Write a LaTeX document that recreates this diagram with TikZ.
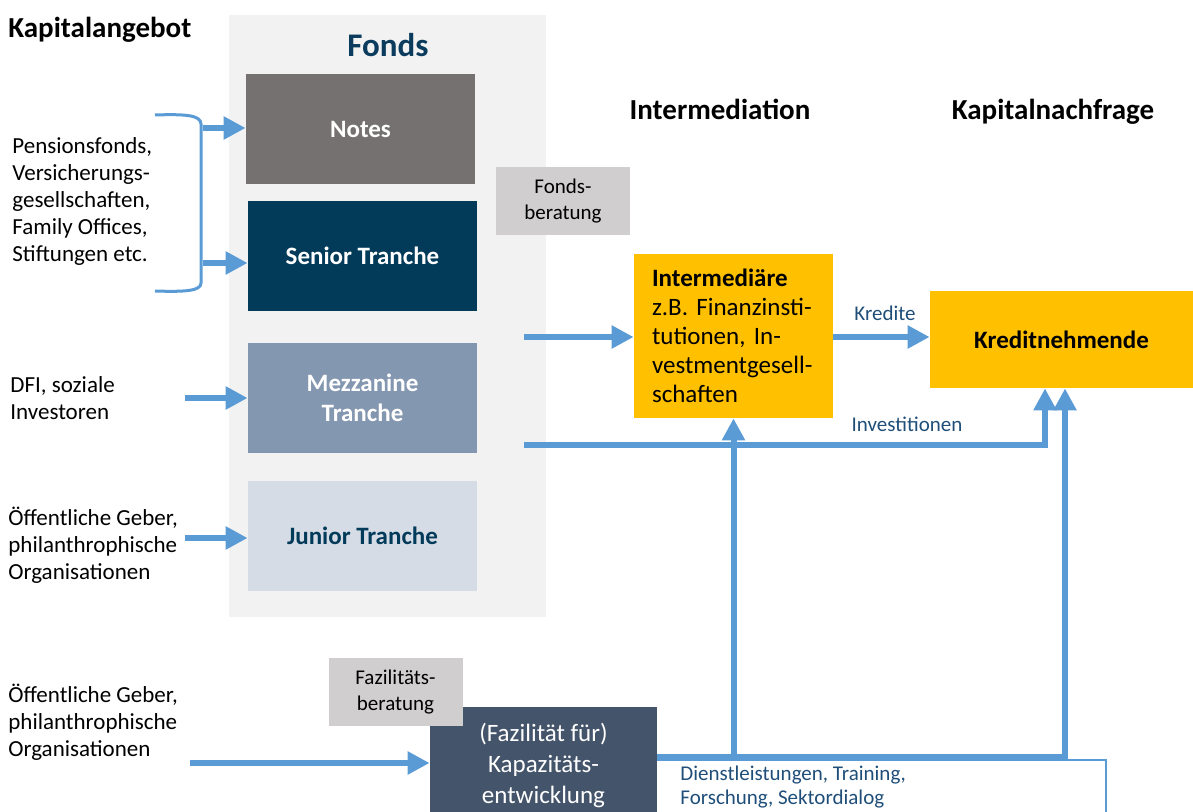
\documentclass[tikz,border=0pt]{standalone}
\usepackage{fontspec}
\setmainfont{Carlito}
\usetikzlibrary{arrows.meta,positioning}
\definecolor{arrowblue}{HTML}{5B9BD5}
\definecolor{fondsgray}{HTML}{F2F2F2}
\definecolor{notesgray}{HTML}{767171}
\definecolor{seniorblue}{HTML}{023A5A}
\definecolor{mezzblue}{HTML}{8497B0}
\definecolor{juniorblue}{HTML}{D6DCE5}
\definecolor{beratgray}{HTML}{D0CECE}
\definecolor{gold}{HTML}{FFC000}
\definecolor{kapblue}{HTML}{44546A}
\definecolor{labelblue}{HTML}{1F4E79}
\definecolor{titleblue}{HTML}{0B3C5D}

\begin{document}
\begin{tikzpicture}[x=0.5pt,y=-0.5pt,
		tranche/.style={minimum width=114.5pt,minimum height=55pt,inner sep=0pt,align=center,font=\fontsize{12.5}{15}\selectfont\bfseries},
		berat/.style={fill=beratgray,minimum width=67pt,minimum height=34pt,inner sep=0pt,align=center,font=\fontsize{10.5}{13}\selectfont},
		head/.style={inner sep=0pt,font=\fontsize{14.5}{17}\selectfont\bfseries},
		src/.style={align=left,anchor=west,inner sep=0pt,font=\fontsize{11.5}{13.5}\selectfont},
		lbl/.style={text=labelblue,inner sep=0pt,font=\fontsize{10.5}{12}\selectfont},
		flow/.style={draw=arrowblue,line width=3pt,-{Triangle[length=11pt,width=11pt]}}]
	\useasboundingbox (0,0) rectangle (1193,812);

	% Kapitalangebot
	\node [head,anchor=base west] (angebot) at (8,38) {Kapitalangebot};
	\node [src] (pension) at (12,201.5) {Pensionsfonds,\\Versicherungs-\\gesellschaften,\\Family Offices,\\Stiftungen etc.};
	\node [src] (dfi) at (10,398) {DFI, soziale\\Investoren};
	\node [src] (geber1) at (8,545) {Öffentliche Geber,\\philanthrophische\\Organisationen};
	\node [src] (geber2) at (8,722.5) {Öffentliche Geber,\\philanthrophische\\Organisationen};

	% Fonds
	\node [fill=fondsgray,minimum width=158.5pt,minimum height=301pt,inner sep=0pt] (fonds) at (387.5,316) {};
	\node [inner sep=0pt,text=titleblue,font=\fontsize{16.5}{19}\selectfont\bfseries] (fondstitle) at (388,45) {Fonds};
	\node [tranche,fill=notesgray,text=white] (notes) at (360.5,129) {Notes};
	\node [tranche,fill=seniorblue,text=white] (senior) at (362.5,256) {Senior Tranche};
	\node [tranche,fill=mezzblue,text=white] (mezz) at (362.5,398) {Mezzanine\\Tranche};
	\node [tranche,fill=juniorblue,text=seniorblue] (junior) at (362.5,536) {Junior Tranche};
	\node [berat] (fberat) at (563,201) {Fonds-\\beratung};

	% Intermediation, Kapitalnachfrage
	\node [head,anchor=base] (intermed) at (720,120) {Intermediation};
	\node [head,anchor=base] (nachfrage) at (1053,120) {Kapitalnachfrage};
	\node [fill=gold,minimum height=82pt,text width=81.5pt,inner xsep=9pt,align=left,font=\fontsize{12.5}{14.5}\selectfont] (inter) at (733.5,336) {\textbf{Intermediäre}\\z.B. Finanzinsti-\\tutionen, In-\\vestmentgesell-\\schaften};
	\node [fill=gold,minimum width=131.5pt,minimum height=48.5pt,inner sep=0pt,font=\fontsize{12.5}{14.5}\selectfont\bfseries] (kredit) at (1061.5,339.5) {Kreditnehmende};

	% Kapitalangebot -> Fonds
	\draw [draw=arrowblue,line width=1.5pt] (155,115) .. controls (185,114) and (201,115) .. (201,124) -- (201,283) .. controls (201,291) and (185,292) .. (155,291);
	\coordinate (b1) at (203,128);
	\coordinate (b2) at (203,263);
	\coordinate (a3) at (185,398);
	\coordinate (a4) at (185,538);
	\draw [flow] (b1) -- (b1 -| notes.west);
	\draw [flow] (b2) -- (b2 -| senior.west);
	\draw [flow] (a3) -- (a3 -| mezz.west);
	\draw [flow] (a4) -- (a4 -| junior.west);

	% Fonds -> Intermediaere -> Kreditnehmende
	\coordinate (fout1) at (524,337);
	\coordinate (fout2) at (524,445);
	\coordinate (up1) at (1045,445);
	\coordinate (up2) at (1065,757);
	\draw [flow] (fout1) -- (fout1 -| inter.west);
	\draw [flow] (inter.east |- fout1) -- (fout1 -| kredit.west);
	\node [lbl] (kredite) at (885,313) {Kredite};
	\draw [flow] (fout2) -| (kredit.south -| up1);
	\node [lbl] (invest) at (907,424) {Investitionen};

	% Kapazitaetsentwicklung
	\draw [draw=arrowblue,line width=0.75pt] (657,760) -- (1106,760) -- (1106,830);
	\node [lbl,anchor=north west,align=left] (dienst) at (680,766) {Dienstleistungen, Training,\\Forschung, Sektordialog};
	\draw [flow] (inter.south |- up2) -- (inter.south);
	\draw [flow] (657,757) -| (kredit.south -| up2);
	\node [fill=kapblue,text=white,minimum width=113.5pt,minimum height=58.5pt,inner sep=0pt,align=center,font=\fontsize{12.5}{15.5}\selectfont] (kap) at (543.5,765.5) {(Fazilität für)\\Kapazitäts-\\entwicklung};
	\node [berat] (kberat) at (395.5,692) {Fazilitäts-\\beratung};
	\coordinate (a5) at (190,763);
	\draw [flow] (a5) -- (a5 -| kap.west);
\end{tikzpicture}
\end{document}
